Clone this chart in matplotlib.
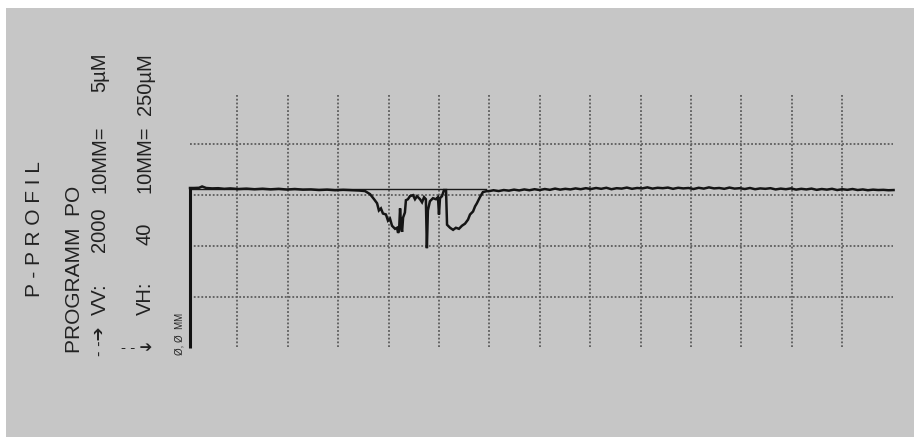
import numpy as np
import matplotlib.pyplot as plt
from matplotlib.patches import Rectangle

plt.rcParams['font.family'] = ['Liberation Sans', 'DejaVu Sans']

# Profil: x in µm (VH: 10MM = 250µM), y in µm (VV: 10MM = 5µM)
x_vor = [0, 20, 45, 60, 80, 110, 140, 170, 200, 240, 280, 320, 360, 400, 440,
         480, 520, 560, 600, 640, 680, 720, 760, 800, 840, 868]
y_vor = [0.10, 0.10, 0.12, 0.25, 0.10, 0.06, 0.08, 0.02, 0.06, 0.00, 0.04, -0.02,
         0.03, -0.03, 0.02, -0.05, 0.00, -0.06, -0.04, -0.10, -0.06, -0.12, -0.08,
         -0.12, -0.15, -0.20]

x_mulde = [893, 913, 928, 937, 947, 957, 972, 982, 992, 1002, 1017, 1027, 1032, 1037,
           1042, 1047, 1052, 1057, 1066, 1071, 1081, 1091, 1106, 1116, 1126, 1141, 1151,
           1161, 1170, 1175, 1180, 1190, 1205, 1220, 1230, 1235, 1240, 1250, 1260, 1270,
           1275, 1290, 1305, 1319, 1334, 1349, 1364, 1379, 1389, 1404, 1414, 1423, 1438,
           1453, 1473]
y_mulde = [-0.5, -1.0, -1.4, -2.1, -1.9, -2.4, -2.5, -3.1, -2.9, -3.6, -3.9, -3.8, -4.3,
           -4.1, -1.9, -3.6, -4.2, -2.8, -2.3, -1.1, -1.0, -0.7, -0.6, -1.0, -0.7, -1.0,
           -1.3, -0.8, -1.0, -5.8, -2.1, -1.2, -0.9, -1.0, -0.8, -2.5, -0.9, -0.7, -0.1,
           -0.1, -3.5, -3.8, -4.0, -3.8, -3.9, -3.6, -3.4, -3.0, -2.5, -2.2, -1.7, -1.4,
           -0.8, -0.3, -0.2]

x_nach = np.linspace(1480, 3490, 80)
y_nach = [-0.22, -0.12, -0.20, -0.10, -0.16, -0.06, -0.14, -0.04, -0.12, -0.02,
          -0.10, 0.00, -0.08, 0.04, -0.06, 0.02, -0.04, 0.06, -0.02, 0.08,
          0.00, 0.10, 0.02, 0.12, -0.02, 0.08, 0.04, 0.14, 0.02, 0.10,
          0.06, 0.16, 0.04, 0.12, 0.08, 0.14, 0.02, 0.12, 0.06, 0.10,
          0.00, 0.12, 0.04, 0.16, 0.06, 0.10, 0.02, 0.14, 0.04, 0.08,
          0.00, 0.10, -0.02, 0.06, 0.02, 0.08, -0.04, 0.04, -0.02, 0.06,
          -0.06, 0.02, -0.04, 0.04, -0.08, 0.00, -0.06, 0.02, -0.10, -0.02,
          -0.08, 0.00, -0.10, -0.04, -0.12, -0.06, -0.10, -0.08, -0.12, -0.10]

# Raster
gitter_x = [235 + 250 * k for k in range(13)]
gitter_y = [4.4, -0.6, -5.6, -10.6]

fig = plt.figure(figsize=(9.14, 4.37), dpi=100)
fig.patch.set_facecolor('white')
fig.patches.append(Rectangle((6 / 914, 0), 1, 1 - 8 / 437, transform=fig.transFigure,
                             facecolor='#c6c6c6', edgecolor='none', zorder=-5))

ax = fig.add_axes([0, 0, 1, 1], zorder=1)
ax.set_facecolor('none')
ax.set_xlim(-942.5, 3591.3)
ax.set_ylim(-24.31, 18.53)
ax.axis('off')

for gx in gitter_x:
    ax.plot([gx, gx], [9.2, -15.5], color='#5c5c5c', lw=1.3, ls=(0, (1, 1.1)))
for gy in gitter_y:
    ax.plot([0, 3487], [gy, gy], color='#5c5c5c', lw=1.3, ls=(0, (1, 1.1)))

# Nulllinie und Achse
ax.plot([0, 1470], [0.05, 0.05], color='#1a1a1a', lw=1.0)
ax.plot([0, 0], [-15.6, 0.1], color='#111111', lw=2.2, solid_capstyle='butt')

x_all = np.concatenate([x_vor, x_mulde, x_nach])
y_all = np.concatenate([y_vor, y_mulde, y_nach])
ax.plot(x_all, y_all, color='#151515', lw=1.8, solid_joinstyle='miter')

# Beschriftung (gedreht)
def txt(px, py, s, size=14.5, rot=90, **kw):
    fig.text(px / 914, 1 - py / 437, s, rotation=rot, ha='center', va='bottom',
             fontsize=size, color='#222222', zorder=2, **kw)

txt(34, 297, 'P - P R O F I L', 15)
txt(74, 353, 'PROGRAMM  PO', 15)
txt(100, 356, '- -➔', 12)
txt(100, 315, 'VV:')
txt(100, 252, '2000')
txt(100, 193, '10MM=')
txt(100, 92, '5µM')
txt(145, 315, 'VH:')
txt(145, 245, '40')
txt(145, 193, '10MM=')
txt(145, 115, '250µM')
fig.text(121 / 914, 1 - 348 / 437, '- - ➔', ha='left', va='center', fontsize=11,
         color='#222222', zorder=2)
txt(179, 355, 'Ø, Ø  MM', 7)

fig.savefig('out.png', dpi=100, facecolor='white')
